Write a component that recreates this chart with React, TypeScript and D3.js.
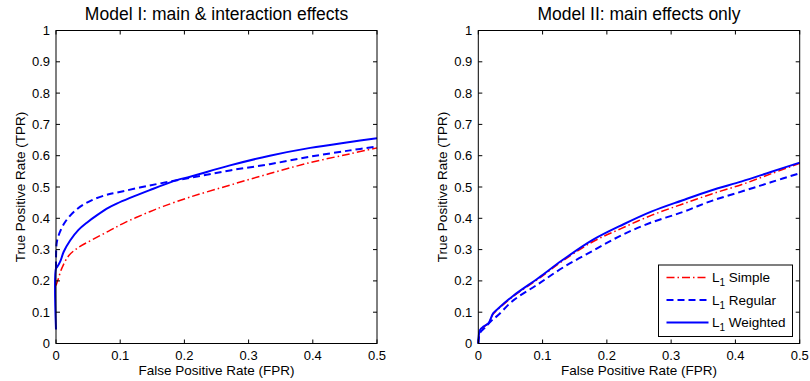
import React from "react";
import * as d3 from "d3";

type Pt = [number, number];

const xTicks = [0, 0.1, 0.2, 0.3, 0.4, 0.5];
const yTicks = [0, 0.1, 0.2, 0.3, 0.4, 0.5, 0.6, 0.7, 0.8, 0.9, 1];

const leftSimple: Pt[] = [
  [0, 0.185], [0.003, 0.203], [0.009, 0.24], [0.02, 0.281], [0.035, 0.307],
  [0.056, 0.331], [0.082, 0.359], [0.105, 0.384], [0.146, 0.421], [0.167, 0.438],
  [0.209, 0.468], [0.271, 0.506], [0.333, 0.543], [0.396, 0.578], [0.458, 0.606],
  [0.5, 0.625],
];
const leftRegular: Pt[] = [
  [0, 0.24], [0.001, 0.32], [0.004, 0.345], [0.0145, 0.389], [0.033, 0.43],
  [0.056, 0.458], [0.082, 0.477], [0.0945, 0.482], [0.146, 0.505], [0.209, 0.529],
  [0.271, 0.553], [0.333, 0.573], [0.396, 0.597], [0.458, 0.617], [0.5, 0.629],
];
const leftWeighted: Pt[] = [
  [0, 0.045], [0, 0.24], [0.002, 0.245], [0.0068, 0.263], [0.012, 0.293],
  [0.022, 0.329], [0.035, 0.363], [0.048, 0.386], [0.064, 0.41], [0.082, 0.434],
  [0.0945, 0.447], [0.146, 0.49], [0.188, 0.522], [0.209, 0.533], [0.271, 0.569],
  [0.333, 0.6], [0.396, 0.625], [0.458, 0.644], [0.5, 0.656],
];

const rightSimple: Pt[] = [
  [0, 0], [0.003, 0.04], [0.008, 0.052], [0.016, 0.066], [0.023, 0.094],
  [0.031, 0.11], [0.054, 0.15], [0.094, 0.207], [0.13, 0.262], [0.178, 0.325],
  [0.222, 0.367], [0.27, 0.41], [0.317, 0.445], [0.362, 0.477], [0.41, 0.508],
  [0.455, 0.542], [0.5, 0.576],
];
const rightRegular: Pt[] = [
  [0, 0], [0.003, 0.035], [0.01, 0.05], [0.02, 0.072], [0.031, 0.091],
  [0.054, 0.137], [0.091, 0.187], [0.132, 0.243], [0.178, 0.296], [0.222, 0.345],
  [0.267, 0.385], [0.318, 0.42], [0.362, 0.455], [0.412, 0.487], [0.455, 0.515],
  [0.5, 0.544],
];
const rightWeighted: Pt[] = [
  [0, 0], [0.0027, 0.043], [0.008, 0.054], [0.0156, 0.064], [0.023, 0.096],
  [0.031, 0.112], [0.054, 0.152], [0.094, 0.21], [0.13, 0.265], [0.178, 0.331],
  [0.226, 0.381], [0.27, 0.422], [0.317, 0.457], [0.362, 0.489], [0.41, 0.518],
  [0.455, 0.548], [0.5, 0.578],
];

const seriesNames = ["Simple", "Regular", "Weighted"];
const titles = ["Model I: main & interaction effects", "Model II: main effects only"];

const styles = [
  { color: "#ff0000", dash: "8,3,1.5,3", width: 1.5 },
  { color: "#0000ff", dash: "7,4", width: 2 },
  { color: "#0000ff", dash: "none", width: 2 },
];

const FONT = "'Liberation Sans', Arial, Helvetica, sans-serif";

function Panel({ x0, x1, title, data, legend }: { x0: number; x1: number; title: string; data: Pt[][]; legend: boolean }) {
  const top = 30.5;
  const bottom = 343.5;
  const xs = d3.scaleLinear().domain([0, 0.5]).range([x0, x1]);
  const ys = d3.scaleLinear().domain([0, 1]).range([bottom, top]);
  const line = d3.line<Pt>().x((d) => xs(d[0])).y((d) => ys(d[1])).curve(d3.curveCatmullRom.alpha(0.5));
  const tl = 4;
  const cx = (x0 + x1) / 2;
  const cy = (top + bottom) / 2;
  return (
    <g fontFamily={FONT} fill="#000">
      <rect x={x0} y={top} width={x1 - x0} height={bottom - top} fill="#fff" stroke="none" />
      <g>
        {data.map((d, i) => (
          <path key={i} d={line(d) || ""} fill="none" stroke={styles[i].color}
            strokeWidth={styles[i].width} strokeDasharray={styles[i].dash} strokeLinejoin="round" />
        ))}
      </g>
      <rect x={x0} y={top} width={x1 - x0} height={bottom - top} fill="none" stroke="#000" strokeWidth={1} />
      {xTicks.map((t) => (
        <g key={"x" + t}>
          <line x1={xs(t)} x2={xs(t)} y1={bottom} y2={bottom - tl} stroke="#000" />
          <line x1={xs(t)} x2={xs(t)} y1={top} y2={top + tl} stroke="#000" />
          <text x={xs(t)} y={360} fontSize={13} textAnchor="middle">{String(t)}</text>
        </g>
      ))}
      {yTicks.map((t) => (
        <g key={"y" + t}>
          <line x1={x0} x2={x0 + tl} y1={ys(t)} y2={ys(t)} stroke="#000" />
          <line x1={x1} x2={x1 - tl} y1={ys(t)} y2={ys(t)} stroke="#000" />
          <text x={x0 - 6} y={ys(t) + 4.5} fontSize={13} textAnchor="end">{String(t)}</text>
        </g>
      ))}
      <text x={cx} y={20} fontSize={17.5} textAnchor="middle">{title}</text>
      <text x={cx} y={375} fontSize={13.5} textAnchor="middle">False Positive Rate (FPR)</text>
      <text transform={`translate(${x0 - 31},${cy}) rotate(-90)`} fontSize={13.5} textAnchor="middle">
        True Positive Rate (TPR)
      </text>
      {legend && (
        <g>
          <rect x={658.5} y={265} width={134} height={71.5} fill="#fff" stroke="#000" strokeWidth={1} />
          {seriesNames.map((n, i) => {
            const yy = 277.5 + i * 22.5;
            return (
              <g key={n}>
                <line x1={666.5} x2={708.5} y1={yy} y2={yy} stroke={styles[i].color}
                  strokeWidth={styles[i].width} strokeDasharray={styles[i].dash} />
                <text x={712} y={yy + 4.5} fontSize={13.5}>
                  L<tspan fontSize={10} dy={4}>1</tspan>
                  <tspan dy={-4}>{" " + n}</tspan>
                </text>
              </g>
            );
          })}
        </g>
      )}
    </g>
  );
}

export default function App() {
  return (
    <svg width={810} height={381} style={{ position: "absolute", left: 0, top: 0, background: "#fff" }}>
      <rect width={810} height={381} fill="#fff" />
      <Panel x0={56} x1={377} title={titles[0]} data={[leftSimple, leftRegular, leftWeighted]} legend={false} />
      <Panel x0={478.3} x1={799.7} title={titles[1]} data={[rightSimple, rightRegular, rightWeighted]} legend={true} />
    </svg>
  );
}
